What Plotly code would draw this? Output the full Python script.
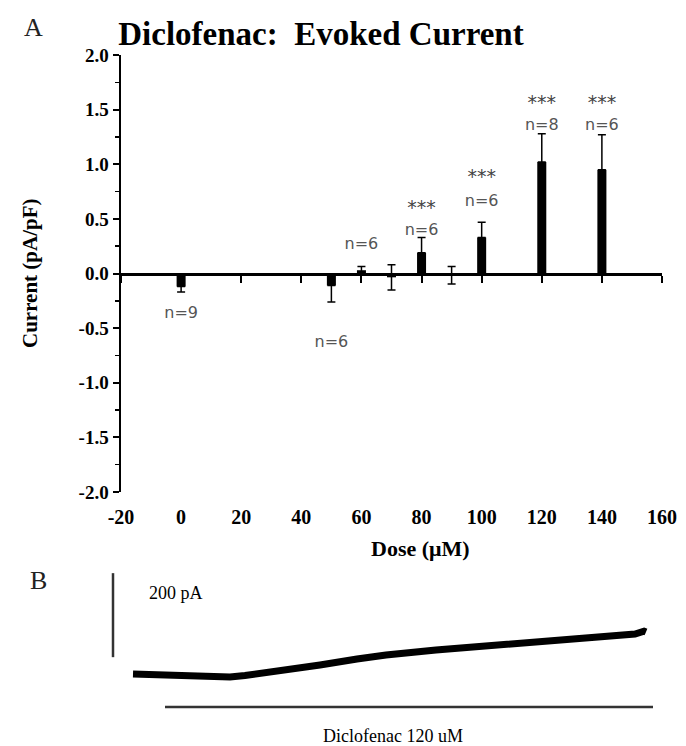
import plotly.graph_objects as go

W, H = 686, 746

# ---------------- Panel A data ----------------
doses = [0, 50, 60, 70, 80, 90, 100, 120, 140]
current_mean = [-0.12, -0.11, 0.03, -0.035, 0.19, -0.015, 0.33, 1.02, 0.95]
err_plus = [0.0, 0.0, 0.035, 0.115, 0.14, 0.08, 0.14, 0.26, 0.32]
err_minus = [0.05, 0.15, 0.035, 0.115, 0.0, 0.08, 0.0, 0.0, 0.0]

n_labels = ["n=9", "n=6", "n=6", "n=6", "n=6", "n=8", "n=6"]
n_x = [0, 50, 60, 80, 100, 120, 140]
n_y = [-0.37, -0.64, 0.26, 0.39, 0.65, 1.35, 1.35]

sig_x = [80, 100, 120, 140]
sig_y = [0.59, 0.87, 1.55, 1.55]
sig_text = ["***", "***", "***", "***"]

x_ticks = [-20, 0, 20, 40, 60, 80, 100, 120, 140, 160]
y_ticks = [-2.0, -1.5, -1.0, -0.5, 0.0, 0.5, 1.0, 1.5, 2.0]
y_ticklabels = ["-2.0", "-1.5", "-1.0", "-0.5", "0.0", "0.5", "1.0", "1.5", "2.0"]

# ---------------- Panel B data (trace) ----------------
trace_t = [0, 5.4, 11.4, 16.4, 19.4, 22.4, 26.4, 31.4, 37.4, 44.8, 50.6,
           60.6, 70.6, 80.6, 90.6, 97.2, 100.4, 102.2, 102.6]
trace_pA = [0, -1.2, -2.4, -4.8, -7.1, -3.6, 2.4, 11.9, 21.4, 35.7, 45.2,
            57.1, 66.6, 76.2, 85.7, 90.4, 95.2, 102, 100]
scale_t = [-4, -4]
scale_pA = [40, 240]
drug_t = [6.4, 104]
drug_pA = [-78.5, -78.5]

SERIF = "Liberation Serif, Times New Roman, serif"
SANS = "DejaVu Sans, Arial, sans-serif"

def px_x(p):
    return p / W

def px_y(p):
    return 1 - p / H

fig = go.Figure()

fig.add_trace(go.Bar(
    x=doses, y=current_mean, width=3,
    marker=dict(color="black", line=dict(width=0)),
    error_y=dict(type="data", symmetric=False, array=err_plus,
                 arrayminus=err_minus, color="black", thickness=1.5, width=4),
    xaxis="x", yaxis="y", showlegend=False, hoverinfo="skip",
))

# invisible trace to activate the zero-line axis
fig.add_trace(go.Scatter(x=[-20], y=[0], mode="markers",
                         marker=dict(opacity=0), xaxis="x2", yaxis="y",
                         showlegend=False, hoverinfo="skip"))

# n labels
fig.add_trace(go.Scatter(x=n_x, y=n_y, mode="text", text=n_labels,
                         textfont=dict(family=SANS, size=16, color="#555555"),
                         xaxis="x", yaxis="y", showlegend=False, hoverinfo="skip"))
# significance
fig.add_trace(go.Scatter(x=sig_x, y=sig_y, mode="text", text=sig_text,
                         textfont=dict(family=SANS, size=19, color="#444444"),
                         xaxis="x", yaxis="y", showlegend=False, hoverinfo="skip"))

# Panel B
fig.add_trace(go.Scatter(x=trace_t, y=trace_pA, mode="lines",
                         line=dict(color="black", width=7),
                         xaxis="x3", yaxis="y3", showlegend=False, hoverinfo="skip"))
fig.add_trace(go.Scatter(x=scale_t, y=scale_pA, mode="lines",
                         line=dict(color="#333333", width=2.5),
                         xaxis="x3", yaxis="y3", showlegend=False, hoverinfo="skip"))
fig.add_trace(go.Scatter(x=drug_t, y=drug_pA, mode="lines",
                         line=dict(color="#333333", width=2.5),
                         xaxis="x3", yaxis="y3", showlegend=False, hoverinfo="skip"))

xdom = [px_x(121), px_x(662)]
ydom = [px_y(492), px_y(55)]
zero_pos = ydom[0] + (ydom[1] - ydom[0]) * 0.5

fig.update_layout(
    width=W, height=H, autosize=False,
    margin=dict(l=0, r=0, t=0, b=0, pad=0, autoexpand=False),
    paper_bgcolor="white", plot_bgcolor="white",
    title=dict(text="Diclofenac:&nbsp; Evoked Current", x=px_x(321), xanchor="center",
               y=px_y(33), yanchor="middle", xref="paper", yref="paper",
               automargin=False,
               font=dict(family=SERIF, size=33, color="black", weight="bold")),
    xaxis=dict(domain=xdom, range=[-20, 160], tickvals=x_ticks,
               ticktext=[str(v) for v in x_ticks], showline=False,
               ticks="outside", ticklen=7, tickcolor="rgba(0,0,0,0)",
               showgrid=False, zeroline=False, anchor="y", automargin=False,
               tickfont=dict(family=SERIF, size=20, color="black", weight="bold")),
    xaxis2=dict(domain=xdom, range=[-20, 160], overlaying="x", anchor="free",
                position=zero_pos, side="bottom", showline=True, linewidth=3,
                linecolor="black", ticks="outside", tickvals=x_ticks, ticklen=7,
                tickwidth=2, tickcolor="black", showticklabels=False,
                showgrid=False, zeroline=False, automargin=False),
    yaxis=dict(domain=ydom, range=[-2, 2], tickvals=y_ticks, ticktext=y_ticklabels,
               showline=True, linewidth=2.5, linecolor="black", ticks="outside",
               ticklen=6, tickwidth=2, tickcolor="black",
               minor=dict(dtick=0.25, tick0=0, ticks="outside", ticklen=4,
                          tickwidth=1.5, tickcolor="black"),
               showgrid=False, zeroline=False, anchor="x", automargin=False,
               tickfont=dict(family=SERIF, size=19, color="black", weight="bold")),
    xaxis3=dict(domain=[px_x(100), px_x(670)], range=[-6.6, 107.4], visible=False,
                anchor="y3"),
    yaxis3=dict(domain=[px_y(745), px_y(560)], range=[-169, 271.3], visible=False,
                anchor="x3"),
)

ann = [
    dict(text="A", x=px_x(33), y=px_y(27), font=dict(family=SERIF, size=26, color="#222")),
    dict(text="B", x=px_x(38), y=px_y(580), font=dict(family=SERIF, size=26, color="#222")),
    dict(text="Current (pA/pF)", x=px_x(30), y=px_y(273), textangle=-90,
         font=dict(family=SERIF, size=21, color="black", weight="bold")),
    dict(text="Dose (\u03bcM)", x=px_x(421), y=px_y(548),
         font=dict(family=SERIF, size=22, color="black", weight="bold")),
    dict(text="200 pA", x=px_x(147), y=px_y(593), xanchor="left",
         font=dict(family=SERIF, size=18, color="black")),
    dict(text="Diclofenac 120 uM", x=px_x(393), y=px_y(736),
         font=dict(family=SERIF, size=18, color="black")),
]
for a in ann:
    a.setdefault("xanchor", "center")
    a.update(xref="paper", yref="paper", showarrow=False, yanchor="middle")
    fig.add_annotation(**a)

fig.write_html("out.html",
               config={"displayModeBar": False, "staticPlot": True},
               post_script="document.body.style.margin='0px';document.body.style.overflow='hidden';")
